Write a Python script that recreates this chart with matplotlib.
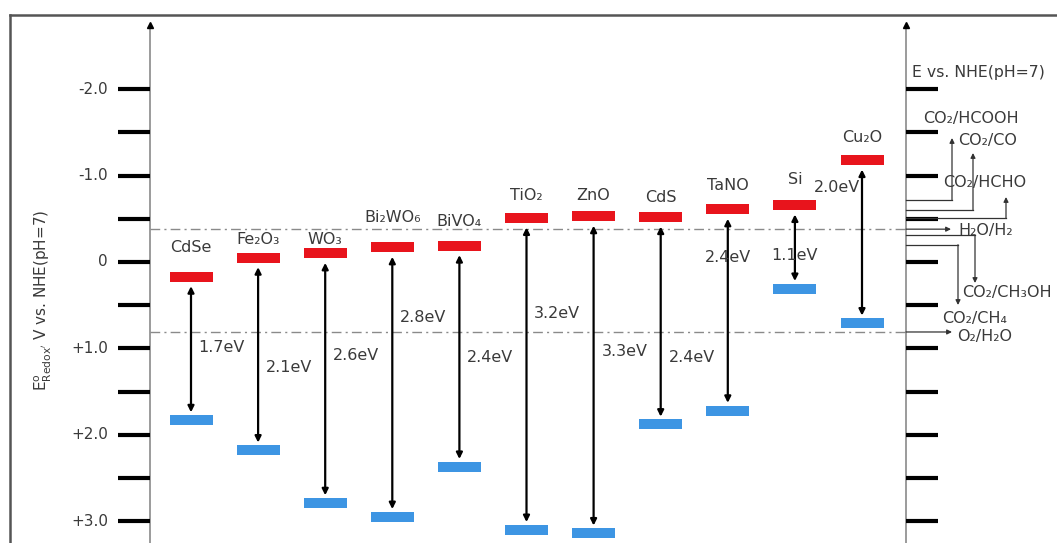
import numpy as np
import matplotlib.pyplot as plt
from matplotlib.lines import Line2D

plt.rcParams['font.family'] = ['DejaVu Sans']

# band edges (V vs NHE)
materials = ['CdSe', 'Fe₂O₃', 'WO₃', 'Bi₂WO₆', 'BiVO₄', 'TiO₂', 'ZnO', 'CdS', 'TaNO', 'Si', 'Cu₂O']
cb = [0.17, -0.05, -0.10, -0.17, -0.19, -0.51, -0.53, -0.52, -0.61, -0.66, -1.18]
vb = [1.83, 2.18, 2.79, 2.95, 2.37, 3.10, 3.14, 1.88, 1.72, 0.31, 0.71]
gaps = ['1.7eV', '2.1eV', '2.6eV', '2.8eV', '2.4eV', '3.2eV', '3.3eV', '2.4eV', '2.4eV', '1.1eV', '2.0eV']

# redox couples on the right axis
couples = ['CO₂/HCOOH', 'CO₂/CO', 'CO₂/HCHO', 'H₂O/H₂', 'CO₂/CH₃OH', 'CO₂/CH₄', 'O₂/H₂O']
couple_E = [-0.72, -0.60, -0.51, -0.38, -0.31, -0.20, 0.81]

yticks = [-2.0, -1.5, -1.0, -0.5, 0.0, 0.5, 1.0, 1.5, 2.0, 2.5, 3.0]
ytick_labels = {-2.0: '-2.0', -1.0: '-1.0', 0.0: '0', 1.0: '+1.0', 2.0: '+2.0', 3.0: '+3.0'}

RED = '#e8141c'
BLUE = '#3d95e3'
TXT = '#3a3a3a'

# layout, in pixels of the 1057x543 picture
W, H = 1057, 543
X0, DX = 191, 67.1   # first slot centre, px per slot
Y0, DY = 262, 86.4   # 0 V, px per volt
def px(x): return (x - X0) / DX
def py(y): return (y - Y0) / DY

fig = plt.figure(figsize=(W / 100, H / 100), dpi=100)
ax = fig.add_axes([0, 0, 1, 1])
ax.set_xlim(px(0), px(W))
ax.set_ylim(py(H), py(0))
ax.axis('off')

# frame (top and left only)
fig.add_artist(Line2D([10 / W, 1], [1 - 15 / H] * 2, color='#555555', lw=1.8))
fig.add_artist(Line2D([10 / W] * 2, [0, 1 - 15 / H], color='#555555', lw=1.8))

# two vertical axes with arrow tips
for xa in (150, 906):
    ax.vlines(px(xa), py(26), py(H), color='#8a8a8a', lw=1.2)
    ax.plot(px(xa), py(25), marker='^', color='black', ms=5)

ax.hlines(yticks, px(118), px(150), color='black', lw=3)
ax.hlines(yticks, px(906), px(938), color='black', lw=3)
for t, s in ytick_labels.items():
    ax.text(px(108), t, s, ha='right', va='center', fontsize=11, color=TXT)

ax.text(px(43), py(300), r"E$^{\mathrm{o}}_{\mathrm{Redox'}}$ V vs. NHE(pH=7)",
        rotation=90, ha='center', va='center', fontsize=11, color=TXT)
ax.text(px(912), py(72), 'E vs. NHE(pH=7)', ha='left', va='center', fontsize=11.3, color=TXT)

# water splitting levels
ax.hlines([couple_E[3], couple_E[6]], px(150), px(906), colors='#8a8a8a',
          linestyles=(0, (7, 3, 1.5, 3)), lw=1)

# band bars
idx = np.arange(len(materials))
bh, bw = 10 / DY, 43 / DX
ax.bar(idx, bh, bottom=np.array(cb) - bh / 2, width=bw, color=RED)
ax.bar(idx, bh, bottom=np.array(vb) - bh / 2, width=bw, color=BLUE)

for i in idx:
    ax.annotate('', xy=(i, vb[i] - 0.09), xytext=(i, cb[i] + 0.11),
                arrowprops=dict(arrowstyle='<|-|>', color='black', lw=1.6,
                                mutation_scale=9, shrinkA=0, shrinkB=0))

label_y = [247, 240, 240, 218, 221, 196, 196, 197, 186, 180, 137]
for i, (m, ly) in enumerate(zip(materials, label_y)):
    ax.text(i, py(ly), m, ha='center', va='center', fontsize=11.5, color=TXT)

gap_dx = [0.46, 0.46, 0.46, 0.46, 0.46, 0.46, 0.46, 0.46, 0.0, 0.0, -0.37]
gap_y = [348, 367, 355, 317, 357, 314, 352, 358, 257, 255, 187]
for i, (g, dx, gy) in enumerate(zip(gaps, gap_dx, gap_y)):
    ax.text(i + dx, py(gy), g, ha='center', va='center', fontsize=11.5, color=TXT)

# connectors from the right axis to the couple names
conn_x = [952, 973, 1006, 951, 975, 958, 952]
conn_end = [138, 153, 197, None, 283, 305, None]
text_xy = [(923, 118), (958, 140), (943, 183), (958, 230), (962, 293), (942, 318), (957, 337)]
arrow_kw = dict(arrowstyle='-|>', color='#333333', lw=0.9, mutation_scale=7, shrinkA=0, shrinkB=0)
for name, e, cx, ce, (tx, ty) in zip(couples, couple_E, conn_x, conn_end, text_xy):
    if ce is None:
        ax.annotate('', xy=(px(cx), e), xytext=(px(906), e), arrowprops=arrow_kw)
    else:
        ax.plot([px(906), px(cx)], [e, e], color='#333333', lw=0.9)
        ax.annotate('', xy=(px(cx), py(ce)), xytext=(px(cx), e), arrowprops=arrow_kw)
    ax.text(px(tx), py(ty), name, ha='left', va='center', fontsize=11.5, color=TXT)

fig.savefig('out.png', dpi=100)
